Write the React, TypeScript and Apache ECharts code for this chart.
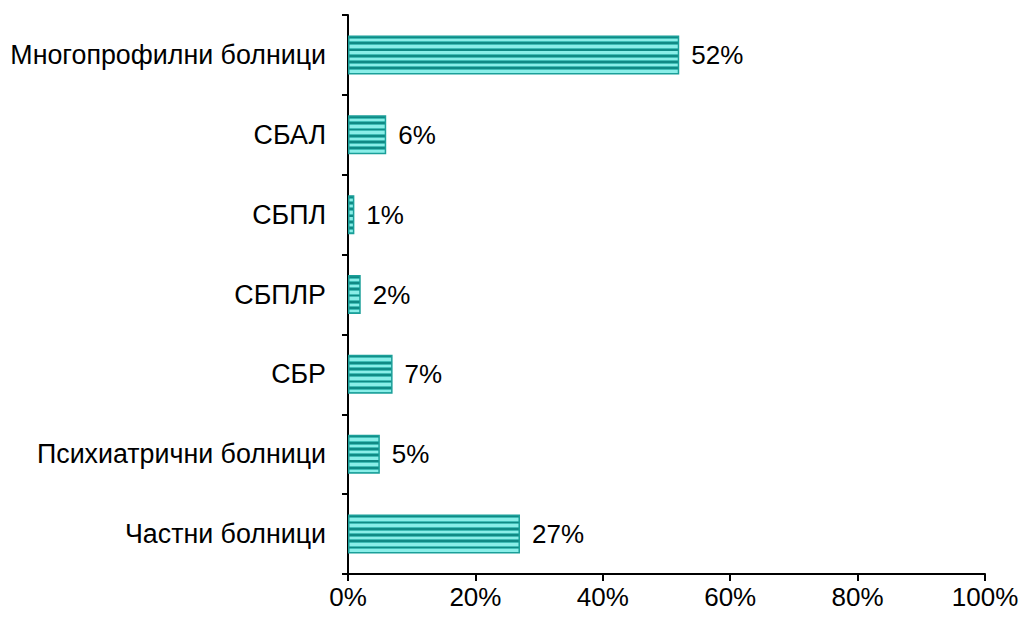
import React, { useEffect, useRef } from "react";
import * as echarts from "echarts";

const categories = [
  "Многопрофилни болници",
  "СБАЛ",
  "СБПЛ",
  "СБПЛР",
  "СБР",
  "Психиатрични болници",
  "Частни болници",
];
const values = [52, 6, 1, 2, 7, 5, 27];
const xTicks = [0, 20, 40, 60, 80, 100];

function stripeGradient() {
  const dark = "#108a85";
  const mid = "#3fbdb6";
  const light = "#8aeee8";
  const stops: { offset: number; color: string }[] = [];
  const periods = 6;
  const p = 1 / periods;
  for (let i = 0; i < periods; i++) {
    const s = i * p;
    stops.push({ offset: s, color: dark });
    stops.push({ offset: s + p * 0.3, color: dark });
    stops.push({ offset: s + p * 0.3, color: mid });
    stops.push({ offset: s + p * 0.45, color: mid });
    stops.push({ offset: s + p * 0.45, color: light });
    stops.push({ offset: s + p * 0.85, color: light });
    stops.push({ offset: s + p * 0.85, color: mid });
    stops.push({ offset: s + p, color: mid });
  }
  stops.push({ offset: 1, color: dark });
  return new echarts.graphic.LinearGradient(0, 0, 0, 1, stops);
}

export default function App() {
  const ref = useRef<HTMLDivElement>(null);
  useEffect(() => {
    if (!ref.current) return;
    const chart = echarts.init(ref.current, null, { renderer: "svg" });
    const font = "Liberation Sans, Arial, sans-serif";
    chart.setOption({
      animation: false,
      grid: { left: 348, right: 39, top: 15, bottom: 44, containLabel: false },
      xAxis: {
        type: "value",
        min: 0,
        max: 100,
        interval: 20,
        axisLine: { show: true, lineStyle: { color: "#000", width: 2 } },
        axisTick: { show: true, length: 7, lineStyle: { color: "#000", width: 2 } },
        splitLine: { show: false },
        axisLabel: {
          margin: 10,
          color: "#000",
          fontSize: 26,
          fontFamily: font,
          formatter: (v: number) => (xTicks.includes(v) ? v + "%" : ""),
        },
      },
      yAxis: {
        type: "category",
        data: categories,
        inverse: true,
        axisLine: { show: true, lineStyle: { color: "#000", width: 2 } },
        axisTick: { show: true, length: 6, lineStyle: { color: "#000", width: 2 } },
        axisLabel: { margin: 22, color: "#000", fontSize: 26.8, fontFamily: font },
      },
      series: [
        {
          type: "bar",
          data: values,
          barWidth: 39,
          itemStyle: {
            color: stripeGradient(),
            borderColor: "#1b9f99",
            borderWidth: 1.5,
          },
          label: {
            show: true,
            position: "right",
            distance: 12,
            color: "#000",
            fontSize: 26,
            fontFamily: font,
            formatter: (p: any) => p.value + "%",
          },
        },
      ],
    });
    return () => chart.dispose();
  }, []);
  return (
    <div
      ref={ref}
      style={{ width: 1024, height: 618, position: "absolute", left: 0, top: 0 }}
    />
  );
}
